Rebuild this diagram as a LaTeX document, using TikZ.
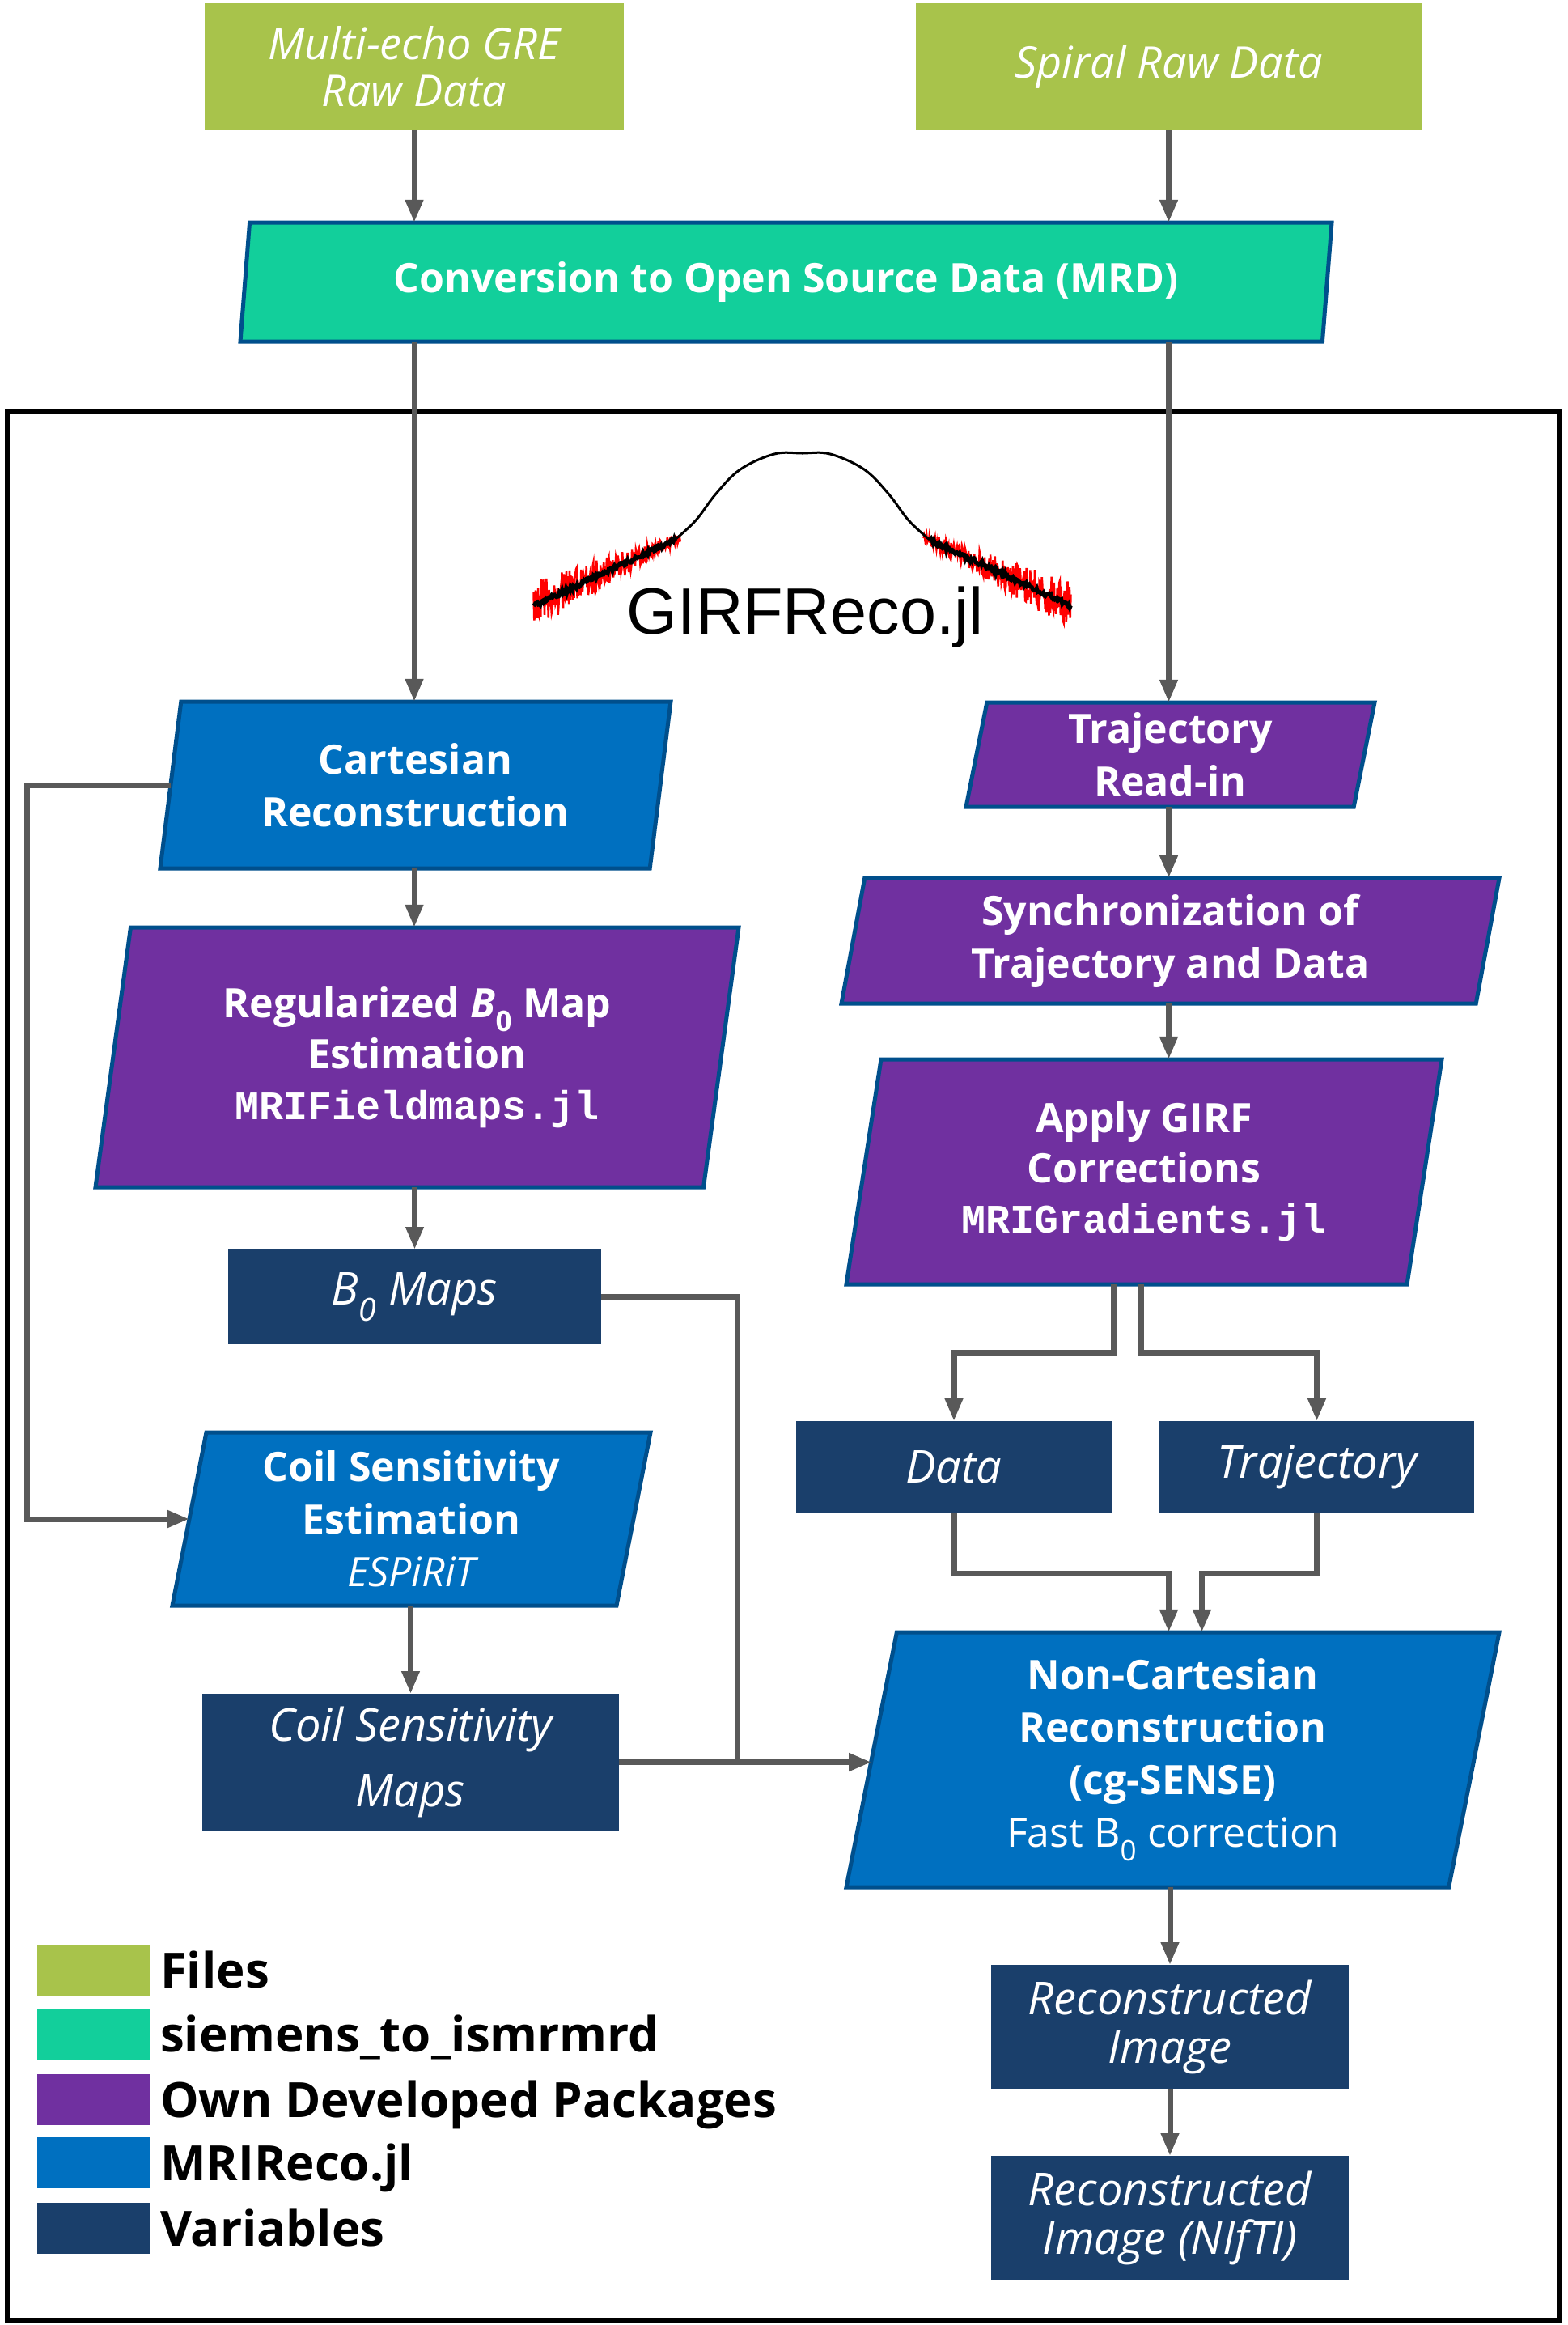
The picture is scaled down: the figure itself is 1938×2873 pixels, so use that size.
\documentclass[tikz,border=0pt]{standalone}
\usepackage{fontspec}
\setmainfont{Open Sans}
\setmonofont{Liberation Mono}
\newfontfamily\logofont{Liberation Sans}
\usetikzlibrary{shapes.geometric,arrows.meta}

\definecolor{filegreen}{HTML}{A8C34B}
\definecolor{mrdteal}{HTML}{12CF9B}
\definecolor{ownpurple}{HTML}{7030A0}
\definecolor{recoblue}{HTML}{0070C0}
\definecolor{varnavy}{HTML}{1A3F6B}
\definecolor{edgeblue}{HTML}{004F8C}
\definecolor{linegray}{HTML}{595959}

\begin{document}
\begin{tikzpicture}[x=1pt,y=-1pt,
   every node/.style={inner sep=0pt, outer sep=0pt},
   filebox/.style={rectangle, fill=filegreen, text=white, align=center,
                   font=\itshape\fontsize{54}{58}\selectfont},
   varbox/.style={rectangle, fill=varnavy, text=white, align=center,
                  font=\itshape\fontsize{56}{60}\selectfont},
   procbox/.style={trapezium, trapezium left angle=76, trapezium right angle=104,
                   trapezium stretches body, draw=edgeblue, line width=5pt,
                   text=white, align=center, font=\bfseries\fontsize{50}{65}\selectfont},
   ownbox/.style={procbox, fill=ownpurple},
   recobox/.style={procbox, fill=recoblue},
   conn/.style={draw=linegray, line width=7pt},
   arrow/.style={conn, -{Triangle[length=28pt,width=21pt]}},
   keybox/.style={rectangle, minimum width=140, minimum height=63},
   keytext/.style={anchor=base west, font=\bfseries\fontsize{60}{60}\selectfont}]

\useasboundingbox (0,0) rectangle (1938,2873);
\draw[line width=6pt] (9,509) rectangle (1927,2867);

% GIRFReco.jl logo
\pgfmathsetseed{7}
\draw[red, line width=2.5pt] plot[domain=150:332, samples=230]
   ({991.5+\x},{667+0.466*(\x-157)+(6+24*(\x-150)/182)*rand});
\draw[red, line width=2.5pt] plot[domain=150:332, samples=230]
   ({991.5-\x},{667+0.466*(\x-157)+(6+24*(\x-150)/182)*rand});
\draw[line width=5pt] plot[domain=157:332, samples=150]
   ({991.5+\x},{667+0.466*(\x-157)+3*rand});
\draw[line width=5pt] plot[domain=157:332, samples=150]
   ({991.5-\x},{667+0.466*(\x-157)+3*rand});
\draw[line width=3pt] plot[smooth, tension=0.6] coordinates {
   (834,667) (860,643) (885,610) (915,580) (957,561) (991.5,560)
   (1026,561) (1068,580) (1098,610) (1123,643) (1149,667)};
\node[font=\logofont\fontsize{81}{81}\selectfont, anchor=base] (girflogo) at (995,783) {GIRFReco.jl};

% inputs and conversion
\node[filebox, minimum width=518, minimum height=157] (gre) at (512,82.5) {Multi-echo GRE\\Raw Data};
\node[filebox, minimum width=625, minimum height=157] (spiral) at (1444.5,82.5) {Spiral Raw Data};
\node[procbox, fill=mrdteal, trapezium left angle=77, trapezium right angle=103,
      minimum width=1349, minimum height=147] (mrd) at (971.5,348.5) {Conversion to Open Source Data (MRD)};

% left column
\node[recobox, minimum width=631, minimum height=206] (cart) at (513.5,970) {Cartesian\\Reconstruction};
\node[ownbox, minimum width=795, minimum height=321, font=\bfseries\fontsize{50}{63}\selectfont] (fieldmap) at (515.5,1306.5)
   {Regularized \textit{B}\textsubscript{0} Map\\Estimation\\\texttt{MRIFieldmaps.jl}};
\node[varbox, minimum width=461, minimum height=117] (bmaps) at (512.5,1602.5) {B\textsubscript{0} Maps};
\node[recobox, minimum width=591, minimum height=214] (espirit) at (508.5,1877)
   {Coil Sensitivity\\Estimation\\{\mdseries\itshape ESPiRiT}};
\node[varbox, minimum width=515, minimum height=169, font=\itshape\fontsize{56}{81}\selectfont] (coilmaps) at (507.5,2177.5)
   {Coil Sensitivity\\Maps};

% right column
\node[ownbox, minimum width=505, minimum height=129] (trajin) at (1446.5,932.5) {Trajectory\\Read-in};
\node[ownbox, minimum width=813, minimum height=155] (sync) at (1446.5,1162.5) {Synchronization of\\Trajectory and Data};
\node[ownbox, minimum width=736, minimum height=278, font=\bfseries\fontsize{50}{62}\selectfont] (girf) at (1414,1448)
   {Apply GIRF\\Corrections\\\texttt{MRIGradients.jl}};
\node[varbox, minimum width=390, minimum height=113] (data) at (1179,1812.5) {Data};
\node[varbox, minimum width=389, minimum height=113] (traj) at (1627.5,1812.5) {Trajectory};
\node[recobox, minimum width=807, minimum height=315] (nufft) at (1449.5,2174.5)
   {Non-Cartesian\\Reconstruction\\(cg-SENSE)\\{\mdseries Fast B\textsubscript{0} correction}};
\node[varbox, minimum width=442, minimum height=153] (recon) at (1446,2504.5) {Reconstructed\\Image};
\node[varbox, minimum width=442, minimum height=154] (nifti) at (1446,2741) {Reconstructed\\Image (NIfTI)};

% connectors
\draw[arrow] (gre.south) -- (gre.south |- mrd.north);
\draw[arrow] (spiral.south) -- (spiral.south |- mrd.north);
\draw[arrow] (gre.south |- mrd.south) -- (gre.south |- cart.north);
\draw[arrow] (gre.south |- cart.south) -- (gre.south |- fieldmap.north);
\draw[arrow] (bmaps.north |- fieldmap.south) -- (bmaps.north);
\draw[arrow] (cart.left side) -- ++(-177,0) |- (espirit.left side);
\draw[arrow] (coilmaps.north |- espirit.south) -- (coilmaps.north);
\coordinate (bus) at ([xshift=146]coilmaps.east);
\draw[conn] (bmaps.east) -| (bus);
\draw[arrow] (coilmaps.east) -- (coilmaps.east -| nufft.left side);

\draw[arrow] (spiral.south |- mrd.south) -- (spiral.south |- trajin.north);
\draw[arrow] (spiral.south |- trajin.south) -- (spiral.south |- sync.north);
\draw[arrow] (spiral.south |- sync.south) -- (spiral.south |- girf.north);
\draw[arrow] ([xshift=-38]girf.center |- girf.south) -- ++(0,84) -| (data.north);
\draw[arrow] ([xshift=-4]girf.center |- girf.south) -- ++(0,84) -| (traj.north);
\draw[arrow] (data.south) -- ++(0,75) -| ([xshift=-5]nufft.center |- nufft.north);
\draw[arrow] (traj.south) -- ++(0,75) -| ([xshift=36]nufft.center |- nufft.north);
\draw[arrow] (recon.north |- nufft.south) -- (recon.north);
\draw[arrow] (recon.south) -- (nifti.north);

% legend
\node[keybox, fill=filegreen] (key1) at (116,2434.5) {};
\node[keytext] (keytext1) at ([xshift=12,yshift=-22]key1.east) {Files};
\node[keybox, fill=mrdteal] (key2) at (116,2513) {};
\node[keytext] (keytext2) at ([xshift=12,yshift=-22]key2.east) {siemens\_to\_ismrmrd};
\node[keybox, fill=ownpurple] (key3) at (116,2594.5) {};
\node[keytext] (keytext3) at ([xshift=12,yshift=-22]key3.east) {Own Developed Packages};
\node[keybox, fill=recoblue] (key4) at (116,2672.5) {};
\node[keytext] (keytext4) at ([xshift=12,yshift=-22]key4.east) {MRIReco.jl};
\node[keybox, fill=varnavy] (key5) at (116,2753) {};
\node[keytext] (keytext5) at ([xshift=12,yshift=-22]key5.east) {Variables};

\end{tikzpicture}
\end{document}
